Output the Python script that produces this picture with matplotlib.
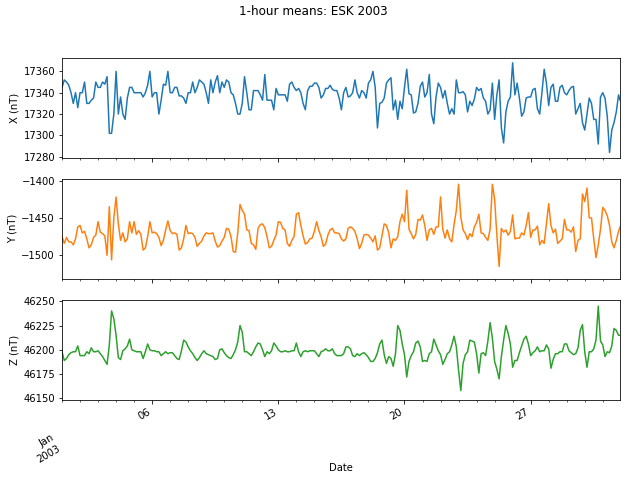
import numpy as np
import matplotlib
matplotlib.use('Agg')
import matplotlib.pyplot as plt
import matplotlib.dates as mdates
from matplotlib.ticker import FixedLocator, FuncFormatter

# 3-hourly readings of the hourly means, Jan 2003 (last point = Jan 31 23:00)
times = np.append(np.arange(np.datetime64('2003-01-01T00'), np.datetime64('2003-02-01T00'),
                            np.timedelta64(3, 'h')),
                  np.datetime64('2003-01-31T23'))

# one row per day
X_nT = [17345, 17352, 17350, 17347, 17340, 17330, 17340, 17326,
        17340, 17340, 17350, 17330, 17330, 17333, 17335, 17350,
        17345, 17345, 17350, 17348, 17355, 17302, 17302, 17320,
        17360, 17320, 17336, 17320, 17315, 17335, 17345, 17345,
        17340, 17340, 17340, 17340, 17336, 17340, 17347, 17360,
        17336, 17340, 17340, 17320, 17333, 17348, 17347, 17360,
        17340, 17340, 17345, 17345, 17337, 17337, 17335, 17330,
        17340, 17340, 17350, 17340, 17345, 17352, 17350, 17348,
        17340, 17330, 17352, 17340, 17350, 17356, 17340, 17350,
        17345, 17352, 17350, 17340, 17338, 17330, 17320, 17320,
        17330, 17355, 17340, 17324, 17324, 17342, 17342, 17342,
        17338, 17333, 17357, 17333, 17333, 17333, 17324, 17344,
        17338, 17338, 17338, 17338, 17332, 17348, 17350, 17345,
        17342, 17344, 17340, 17330, 17324, 17342, 17346, 17346,
        17349, 17349, 17345, 17335, 17338, 17344, 17344, 17347,
        17343, 17342, 17342, 17335, 17324, 17340, 17345, 17336,
        17337, 17340, 17352, 17340, 17335, 17342, 17340, 17335,
        17349, 17352, 17360, 17345, 17307, 17330, 17331, 17335,
        17349, 17352, 17354, 17324, 17333, 17315, 17332, 17325,
        17345, 17362, 17339, 17338, 17321, 17322, 17330, 17346,
        17350, 17336, 17340, 17357, 17320, 17311, 17336, 17349,
        17345, 17335, 17342, 17330, 17320, 17325, 17320, 17352,
        17340, 17340, 17341, 17338, 17322, 17332, 17328, 17334,
        17345, 17342, 17344, 17335, 17332, 17320, 17324, 17349,
        17315, 17338, 17352, 17307, 17293, 17322, 17332, 17336,
        17368, 17338, 17349, 17335, 17318, 17322, 17335, 17336,
        17336, 17343, 17344, 17325, 17320, 17340, 17362, 17349,
        17328, 17345, 17348, 17332, 17332, 17345, 17347, 17340,
        17338, 17342, 17345, 17346, 17320, 17325, 17330, 17312,
        17305, 17320, 17335, 17330, 17315, 17315, 17292, 17336,
        17340, 17335, 17318, 17284, 17305, 17312, 17322, 17338,
        17333]

Y_nT = [-1475, -1484, -1476, -1482, -1482, -1486, -1478, -1462,
        -1460, -1470, -1468, -1478, -1490, -1486, -1476, -1473,
        -1455, -1469, -1471, -1474, -1500, -1435, -1506, -1450,
        -1422, -1458, -1480, -1470, -1482, -1478, -1455, -1470,
        -1455, -1472, -1467, -1472, -1493, -1490, -1475, -1455,
        -1470, -1469, -1471, -1476, -1487, -1480, -1466, -1454,
        -1467, -1471, -1470, -1472, -1493, -1490, -1478, -1460,
        -1471, -1470, -1471, -1476, -1488, -1484, -1481, -1474,
        -1470, -1471, -1471, -1470, -1481, -1489, -1487, -1481,
        -1476, -1464, -1465, -1475, -1495, -1496, -1470, -1432,
        -1440, -1445, -1466, -1467, -1484, -1486, -1492, -1464,
        -1459, -1458, -1463, -1475, -1490, -1488, -1480, -1473,
        -1455, -1456, -1464, -1466, -1484, -1488, -1480, -1475,
        -1445, -1443, -1460, -1474, -1485, -1483, -1478, -1477,
        -1468, -1455, -1467, -1475, -1488, -1485, -1473, -1466,
        -1464, -1470, -1470, -1471, -1478, -1481, -1478, -1464,
        -1462, -1464, -1468, -1478, -1491, -1484, -1473, -1472,
        -1473, -1477, -1482, -1474, -1493, -1490, -1474, -1458,
        -1460, -1470, -1490, -1478, -1480, -1475, -1455, -1445,
        -1455, -1413, -1465, -1471, -1478, -1472, -1452, -1453,
        -1446, -1460, -1480, -1466, -1464, -1472, -1462, -1462,
        -1422, -1465, -1477, -1466, -1478, -1482, -1459, -1440,
        -1405, -1449, -1466, -1471, -1479, -1471, -1475, -1462,
        -1456, -1445, -1470, -1471, -1476, -1480, -1465, -1405,
        -1425, -1473, -1515, -1464, -1469, -1466, -1473, -1468,
        -1446, -1478, -1477, -1477, -1470, -1473, -1460, -1443,
        -1476, -1466, -1466, -1461, -1486, -1480, -1484, -1457,
        -1431, -1460, -1470, -1465, -1484, -1481, -1478, -1452,
        -1466, -1466, -1469, -1462, -1495, -1480, -1478, -1418,
        -1428, -1410, -1450, -1450, -1478, -1503, -1486, -1465,
        -1436, -1440, -1447, -1460, -1482, -1490, -1480, -1468,
        -1462]

Z_nT = [46198, 46189, 46191, 46195, 46197, 46198, 46198, 46204,
        46194, 46194, 46194, 46198, 46196, 46202, 46198, 46198,
        46199, 46196, 46193, 46189, 46185, 46205, 46240, 46232,
        46215, 46192, 46190, 46199, 46201, 46204, 46211, 46200,
        46199, 46198, 46198, 46198, 46191, 46198, 46206, 46200,
        46199, 46199, 46198, 46198, 46194, 46196, 46198, 46196,
        46197, 46197, 46194, 46191, 46190, 46199, 46210, 46208,
        46203, 46199, 46196, 46192, 46189, 46192, 46196, 46199,
        46196, 46195, 46194, 46193, 46190, 46191, 46200, 46201,
        46197, 46194, 46192, 46191, 46195, 46200, 46208, 46225,
        46218, 46198, 46198, 46196, 46194, 46198, 46203, 46207,
        46206, 46200, 46193, 46198, 46196, 46199, 46207, 46204,
        46200, 46198, 46198, 46199, 46198, 46198, 46199, 46199,
        46207, 46198, 46193, 46198, 46199, 46198, 46199, 46199,
        46199, 46196, 46193, 46198, 46199, 46201, 46199, 46199,
        46201, 46196, 46194, 46194, 46194, 46196, 46203, 46203,
        46201, 46194, 46193, 46196, 46194, 46196, 46197, 46195,
        46192, 46188, 46188, 46191, 46197, 46206, 46210, 46195,
        46186, 46193, 46191, 46183, 46196, 46225, 46220, 46206,
        46195, 46172, 46188, 46194, 46198, 46207, 46209, 46203,
        46188, 46189, 46188, 46196, 46198, 46211, 46205, 46199,
        46195, 46185, 46190, 46196, 46198, 46205, 46214, 46203,
        46179, 46158, 46186, 46195, 46198, 46210, 46209, 46208,
        46196, 46176, 46196, 46197, 46194, 46209, 46228, 46212,
        46188, 46180, 46170, 46193, 46210, 46225, 46217, 46206,
        46182, 46189, 46189, 46197, 46204, 46211, 46214, 46206,
        46194, 46197, 46199, 46203, 46198, 46199, 46199, 46205,
        46201, 46181, 46190, 46196, 46196, 46198, 46198, 46206,
        46206, 46199, 46197, 46195, 46196, 46202, 46220, 46226,
        46198, 46182, 46198, 46198, 46201, 46210, 46245, 46209,
        46205, 46193, 46198, 46197, 46204, 46222, 46220, 46215,
        46215]

components = ['X (nT)', 'Y (nT)', 'Z (nT)']
yticks = [[17280, 17300, 17320, 17340, 17360],
          [-1500, -1450, -1400],
          [46150, 46175, 46200, 46225, 46250]]
ylims = [(17278.5, 17372.2), (-1531.5, -1397.7), (46148.3, 46251.4)]
week_days = ['2003-01-06', '2003-01-13', '2003-01-20', '2003-01-27']

fig = plt.figure(figsize=(627 / 72, 480 / 72), dpi=72)
fig.suptitle('1-hour means: ESK 2003', y=0.99)

t = mdates.date2num(times)
x0 = mdates.date2num(np.datetime64('2003-01-01T00'))
x1 = mdates.date2num(np.datetime64('2003-01-31T23'))
days = mdates.date2num(np.arange(np.datetime64('2003-01-01'), np.datetime64('2003-02-01')))
weeks = mdates.date2num(np.array(week_days, dtype='datetime64[D]'))

bottoms = [0.670, 0.419, 0.1667]
axes = []
for i, (vals, lab) in enumerate(zip([X_nT, Y_nT, Z_nT], components)):
    ax = fig.add_axes([0.0989, bottoms[i], 0.890, 0.2085],
                      sharex=axes[0] if axes else None)
    ax.plot(t, vals, color='C%d' % i, lw=1.5)
    ax.set_ylabel(lab)
    ax.set_yticks(yticks[i])
    ax.set_ylim(*ylims[i])
    axes.append(ax)

ax = axes[-1]
ax.set_xlim(x0, x1)
ax.xaxis.set_major_locator(FixedLocator(weeks))
ax.xaxis.set_major_formatter(FuncFormatter(lambda x, pos: mdates.num2date(x).strftime('%d')))
ax.xaxis.set_minor_locator(FixedLocator(days))
ax.xaxis.set_minor_formatter(FuncFormatter(lambda x, pos: 'Jan\n2003' if abs(x - x0) < 0.01 else ''))
ax.tick_params(axis='x', which='minor', pad=31)
plt.setp(ax.get_xticklabels(which='both'), rotation=30, ha='right')
ax.set_xlabel('Date', labelpad=-1)

for a in axes[:-1]:
    a.tick_params(axis='x', which='both', labelbottom=False)

fig.savefig('out.png', dpi=72)
